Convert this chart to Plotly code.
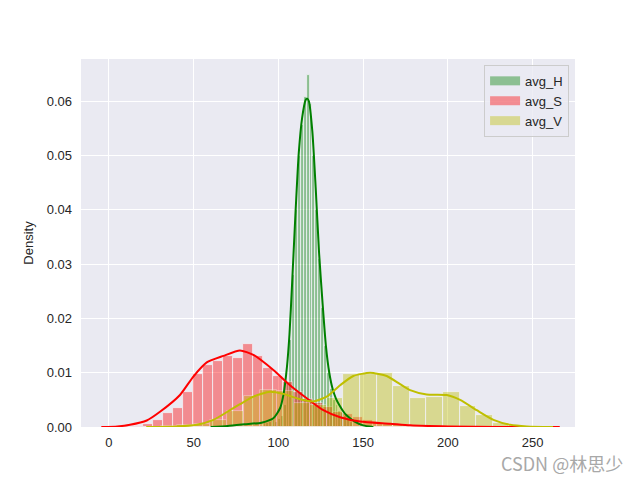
import plotly.graph_objects as go

# ---------------- data ----------------
series_names = ["avg_H", "avg_S", "avg_V"]

# histogram bins: first left edge, bin width, densities
H_bin_start = 91.2
H_bin_width = 1.7
H_heights = [0.0008, 0.0008, 0.0010, 0.0012, 0.0010, 0.0015, 0.0020, 0.0040, 0.0080,
             0.0160, 0.0280, 0.0400, 0.0500, 0.0556, 0.0608, 0.0648, 0.0596, 0.0500,
             0.0400, 0.0310, 0.0220, 0.0150, 0.0100, 0.0070, 0.0050, 0.0040, 0.0030,
             0.0025, 0.0020, 0.0015, 0.0010]

S_bin_start = 14.4
S_bin_width = 5.9
S_heights = [0.0002, 0.0006, 0.0012, 0.0025, 0.0035, 0.0065, 0.0098, 0.0115, 0.0121,
             0.0130, 0.0128, 0.0153, 0.0130, 0.0108, 0.0094, 0.0082, 0.0065, 0.0052,
             0.0044, 0.0037, 0.0028, 0.0024, 0.0018, 0.0012, 0.0008, 0.0006, 0.0004,
             0.0003, 0.0002, 0.0001, 0.0001, 0.0001]

V_bin_start = 30.5
V_bin_width = 9.8
V_heights = [0.0002, 0.0003, 0.0006, 0.0012, 0.0030, 0.0058, 0.0069, 0.0066, 0.0045,
             0.0040, 0.0053, 0.0098, 0.0098, 0.0099, 0.0076, 0.0054, 0.0056, 0.0065,
             0.0039, 0.0022, 0.0008, 0.0002]

# KDE curves (x, density)
H_kde_x = [60, 70, 80, 90, 97, 101, 103, 105, 106.5, 108, 110, 112, 114, 116, 117,
           118, 120, 122, 124, 126, 128, 130, 132, 134, 136, 138, 140, 145, 150, 156]
H_kde_y = [0.0, 0.0002, 0.0005, 0.0008, 0.0016, 0.0035, 0.0060, 0.0110, 0.0170, 0.0260,
           0.0390, 0.0505, 0.0570, 0.0602, 0.0605, 0.0600, 0.0545, 0.0440, 0.0320, 0.0230,
           0.0150, 0.0100, 0.0070, 0.0052, 0.0040, 0.0030, 0.0022, 0.0010, 0.0003, 0.0]

S_kde_x = [-4.5, 5, 12.4, 22.3, 30.1, 41.9, 49.8, 57.7, 67.5, 77.3, 85.2, 97, 106.8,
           116.7, 126.5, 136.4, 148.2, 166, 177.7, 200, 230, 266]
S_kde_y = [0.0, 0.0001, 0.0004, 0.0012, 0.0028, 0.0059, 0.0093, 0.0119, 0.0131, 0.0141,
           0.0133, 0.0105, 0.0077, 0.0053, 0.0031, 0.0018, 0.0010, 0.0006, 0.0003, 0.0001,
           0.0, 0.0]

V_kde_x = [22, 40, 51.8, 61.6, 71.4, 77.3, 85.2, 95, 102.9, 112.8, 120.6, 128.5, 136.4,
           144.2, 154.1, 163.9, 171.8, 177.7, 187.5, 199.3, 207.2, 217, 226.9, 236.7,
           246.6, 262]
V_kde_y = [0.0, 0.0001, 0.0004, 0.0013, 0.0031, 0.0042, 0.0056, 0.0065, 0.0061, 0.0051,
           0.0047, 0.0056, 0.0077, 0.0094, 0.0100, 0.0094, 0.0079, 0.0068, 0.0060, 0.0059,
           0.0050, 0.0031, 0.0013, 0.0004, 0.0001, 0.0]

x_ticks = [0, 50, 100, 150, 200, 250]
y_ticks = [0.00, 0.01, 0.02, 0.03, 0.04, 0.05, 0.06]

# ---------------- styling ----------------
colors = {"avg_H": "#008000", "avg_S": "#ff0000", "avg_V": "#bfbf00"}
fill_rgba = {"avg_H": "rgba(0,128,0,0.4)", "avg_S": "rgba(255,0,0,0.4)",
             "avg_V": "rgba(191,191,0,0.4)"}
FONT = "Liberation Sans, Arial, sans-serif"

hists = {
    "avg_H": (H_bin_start, H_bin_width, H_heights),
    "avg_S": (S_bin_start, S_bin_width, S_heights),
    "avg_V": (V_bin_start, V_bin_width, V_heights),
}
kdes = {
    "avg_H": (H_kde_x, H_kde_y),
    "avg_S": (S_kde_x, S_kde_y),
    "avg_V": (V_kde_x, V_kde_y),
}

fig = go.Figure()

for name in series_names:
    start, width, heights = hists[name]
    centers = [start + width * (i + 0.5) for i in range(len(heights))]
    fig.add_trace(go.Bar(
        x=centers, y=heights, width=[width] * len(heights),
        marker=dict(color=colors[name], line=dict(color="white", width=0.8)),
        opacity=0.4, showlegend=False, hoverinfo="skip",
    ))

for name in series_names:
    kx, ky = kdes[name]
    fig.add_trace(go.Scatter(
        x=kx, y=ky, mode="lines",
        line=dict(color=colors[name], width=2, shape="spline", smoothing=0.6),
        showlegend=False, hoverinfo="skip",
    ))

# legend entries (patch-like swatches)
for name in series_names:
    fig.add_trace(go.Scatter(
        x=[None], y=[None], mode="lines", name=name,
        line=dict(color=fill_rgba[name], width=9),
    ))

fig.update_layout(
    width=640, height=480,
    margin=dict(l=73, r=73, t=51, b=61),
    paper_bgcolor="white", plot_bgcolor="#eaeaf2",
    barmode="overlay", bargap=0,
    font=dict(family=FONT, size=13, color="#262626"),
    legend=dict(
        x=0.988, y=0.984, xanchor="right", yanchor="top",
        bgcolor="rgba(234,234,242,0.8)", bordercolor="#cccccc", borderwidth=1,
        font=dict(family=FONT, size=13, color="#262626"),
        itemwidth=30, tracegroupgap=0,
    ),
    xaxis=dict(
        range=[-16.5, 275], tickvals=x_ticks, ticktext=[str(t) for t in x_ticks],
        showgrid=True, gridcolor="white", gridwidth=1, zeroline=False,
        showline=False, ticks="", ticklabelstandoff=6,
    ),
    yaxis=dict(
        range=[0, 0.0678], tickvals=y_ticks, ticktext=[f"{t:.2f}" for t in y_ticks],
        showgrid=True, gridcolor="white", gridwidth=1, zeroline=False,
        showline=False, ticks="", ticklabelstandoff=8,
        title=dict(text="Density", font=dict(family=FONT, size=13, color="#262626"),
                   standoff=10),
    ),
    annotations=[dict(
        text="CSDN @林思少", xref="paper", yref="paper", x=1.101, y=-0.098,
        xanchor="right", yanchor="middle", showarrow=False,
        font=dict(family="Noto Sans CJK SC, sans-serif", size=18, color="#a8a8a8"),
    )],
)

fig.write_html("out.html")
